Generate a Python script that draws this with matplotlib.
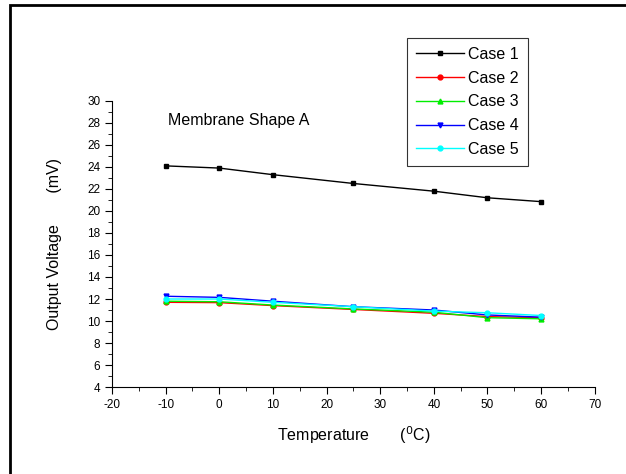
import matplotlib
matplotlib.use('Agg')
import matplotlib.pyplot as plt
from matplotlib.patches import Rectangle
from matplotlib.ticker import MultipleLocator

matplotlib.rcParams['font.family'] = ['Liberation Sans', 'DejaVu Sans']
matplotlib.rcParams['axes.unicode_minus'] = False

temps = [-10, 0, 10, 25, 40, 50, 60]
case1 = [24.1, 23.9, 23.3, 22.5, 21.8, 21.2, 20.85]
case2 = [11.7, 11.67, 11.4, 11.05, 10.7, 10.4, 10.3]
case3 = [11.8, 11.75, 11.45, 11.1, 10.8, 10.3, 10.2]
case4 = [12.25, 12.15, 11.8, 11.3, 11.0, 10.55, 10.35]
case5 = [12.0, 12.0, 11.7, 11.3, 10.9, 10.75, 10.5]

series = [
    ('Case 1', case1, 'black', 's'),
    ('Case 2', case2, 'red', 'o'),
    ('Case 3', case3, '#00ee00', '^'),
    ('Case 4', case4, 'blue', 'v'),
    ('Case 5', case5, 'cyan', 'o'),
]

fig = plt.figure(figsize=(6.26, 4.74), dpi=100)
fig.patches.append(Rectangle((10 / 626, -0.1), 1.2, 1 - 5 / 474 + 0.1,
                             transform=fig.transFigure, fill=False,
                             edgecolor='black', linewidth=2))

ax = fig.add_axes([0.179, 0.1835, 0.771, 0.6035])
for label, vals, color, marker in series:
    ax.plot(temps, vals, '-', color=color, marker=marker, markersize=3.5,
            linewidth=1, label=label)

ax.set_xlim(-20, 70)
ax.set_ylim(4, 30)
ax.xaxis.set_major_locator(MultipleLocator(10))
ax.xaxis.set_minor_locator(MultipleLocator(5))
ax.yaxis.set_major_locator(MultipleLocator(2))
ax.yaxis.set_minor_locator(MultipleLocator(1))
ax.tick_params(which='major', direction='out', length=5, labelsize=8.5)
ax.tick_params(which='minor', direction='out', length=3)
ax.spines['top'].set_visible(False)
ax.spines['right'].set_visible(False)

ax.set_xlabel('Temperature       ($^0$C)', fontsize=11.5, labelpad=10)
ax.set_ylabel('Output Voltage       (mV)', fontsize=11.5, labelpad=18)
ax.text(-9.6, 28.2, 'Membrane Shape A', fontsize=11.5, va='center')

leg = ax.legend(loc='upper left', bbox_to_anchor=(0.611, 1.22), borderaxespad=0,
                fontsize=11.5, frameon=True, fancybox=False, edgecolor='black',
                handlelength=3, handletextpad=0.3, labelspacing=0.55,
                borderpad=0.55)
leg.get_frame().set_linewidth(0.8)

fig.savefig('out.png', dpi=100)
